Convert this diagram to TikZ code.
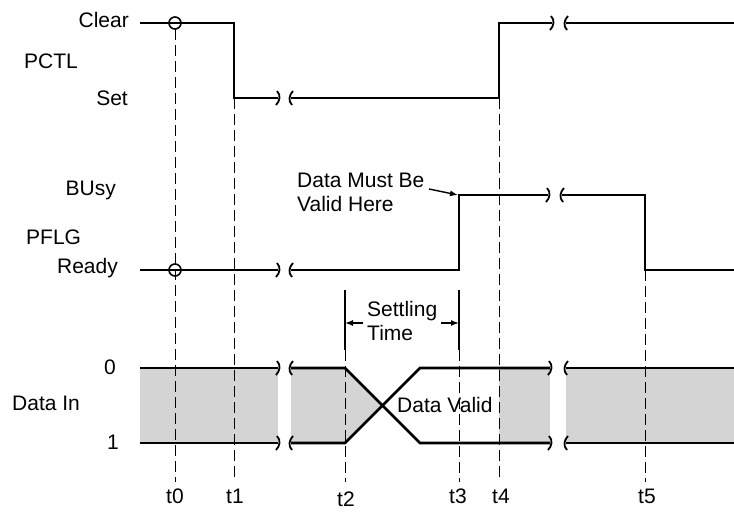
\documentclass[tikz,border=0pt]{standalone}
\usepackage{fontspec}
\setmainfont{Liberation Sans}
\usetikzlibrary{arrows.meta}
\begin{document}
\begin{tikzpicture}[x=1pt,y=-1pt,
  sig/.style={line width=2.7pt, line join=miter},
  guide/.style={line width=1pt, dash pattern=on 11pt off 5pt},
  bar/.style={line width=2pt},
  lbl/.style={font=\fontsize{21}{24}\selectfont, inner sep=0pt},
  brk/.style={line width=1.8pt},
  shadefill/.style={fill=gray!34},
  ptr/.style={line width=1.4pt, -{Latex[length=8pt,width=6pt]}},
  brkl/.pic={\draw[brk] (-1,-7) .. controls (3,-3) and (2,3) .. (-2,7);},
  brkr/.pic={\draw[brk] (2,-7) .. controls (-2,-3) and (-3,3) .. (1,7);}]
\useasboundingbox (0,0) rectangle (734,516);

% shading of Data In
\fill[shadefill] (140,368) rectangle (278,443);
\fill[shadefill] (291,368) -- (345,368) -- (382.5,405.5) -- (345,443) -- (291,443) -- cycle;
\fill[shadefill] (499,368) rectangle (550,443);
\fill[shadefill] (566,368) rectangle (734,443);

% time guides
\draw[guide] (175,29) -- (175,482);
\draw[guide] (234,98) -- (234,482);
\draw[guide] (345,350) -- (345,482);
\draw[guide] (459,350) -- (459,482);
\draw[guide] (499,98) -- (499,482);
\draw[guide] (645,270) -- (645,482);

% PCTL
\draw[sig] (140,23) -- (234,23) -- (234,98) -- (278,98);
\draw[sig] (291,98) -- (499,98) -- (499,23) -- (552,23);
\draw[sig] (566,23) -- (734,23);
\pic at (278,98) {brkl}; \pic at (291,98) {brkr};
\pic at (552,23) {brkl}; \pic at (566,23) {brkr};

% PFLG
\draw[sig] (140,270) -- (278,270);
\draw[sig] (291,270) -- (459,270) -- (459,195) -- (548,195);
\draw[sig] (562,195) -- (645,195) -- (645,270) -- (734,270);
\pic at (278,270) {brkl}; \pic at (291,270) {brkr};
\pic at (548,195) {brkl}; \pic at (562,195) {brkr};

% circles at t0
\draw[line width=1.6pt] (175,23) circle (6);
\draw[line width=1.6pt] (175,270) circle (6);

% Data In
\draw[sig] (140,368) -- (278,368);
\draw[sig] (140,443) -- (278,443);
\draw[sig] (291,368) -- (345,368) -- (420,443) -- (550,443);
\draw[sig] (291,443) -- (345,443) -- (420,368) -- (550,368);
\draw[sig] (566,368) -- (734,368);
\draw[sig] (566,443) -- (734,443);
\pic at (278,368) {brkl}; \pic at (291,368) {brkr};
\pic at (278,443) {brkl}; \pic at (291,443) {brkr};
\pic at (550,368) {brkl}; \pic at (566,368) {brkr};
\pic at (550,443) {brkl}; \pic at (566,443) {brkr};

% settling time
\draw[bar] (345,290) -- (345,350);
\draw[bar] (459,290) -- (459,350);
\coordinate (sL) at (345,323);
\coordinate (sR) at (459,323);
\coordinate (sLa) at (363,323);
\coordinate (sRa) at (441,323);
\draw[ptr] (sLa) -- (sL);
\draw[ptr] (sRa) -- (sR);
\node[lbl, anchor=west, align=left] (settle) at (367,321) {Settling\\Time};

% data must be valid here
\node[lbl, anchor=west, align=left] (must) at (297,192) {Data Must Be\\Valid Here};
\coordinate (mustA) at (429,189);
\coordinate (mustB) at (458,195);
\draw[ptr] (mustA) -- (mustB);

% labels
\node[lbl, anchor=east] (clear) at (129,20) {Clear};
\node[lbl, anchor=west] (pctl) at (24,61) {PCTL};
\node[lbl, anchor=east] (set) at (128,98) {Set};
\node[lbl, anchor=east] (busy) at (116,190) {BUsy};
\node[lbl, anchor=west] (pflg) at (26,237) {PFLG};
\node[lbl, anchor=east] (ready) at (118,268) {Ready};
\node[lbl] (zero) at (110,367) {0};
\node[lbl, anchor=west] (datain) at (12,403) {Data In};
\node[lbl] (one) at (113,442) {1};
\node[lbl, anchor=west] (valid) at (397,405) {Data Valid};

\node[lbl] (t0) at (175,496) {t0};
\node[lbl] (t1) at (235,496) {t1};
\node[lbl] (t2) at (346,499) {t2};
\node[lbl] (t3) at (458,496) {t3};
\node[lbl] (t4) at (501,496) {t4};
\node[lbl] (t5) at (647,496) {t5};
\end{tikzpicture}
\end{document}
